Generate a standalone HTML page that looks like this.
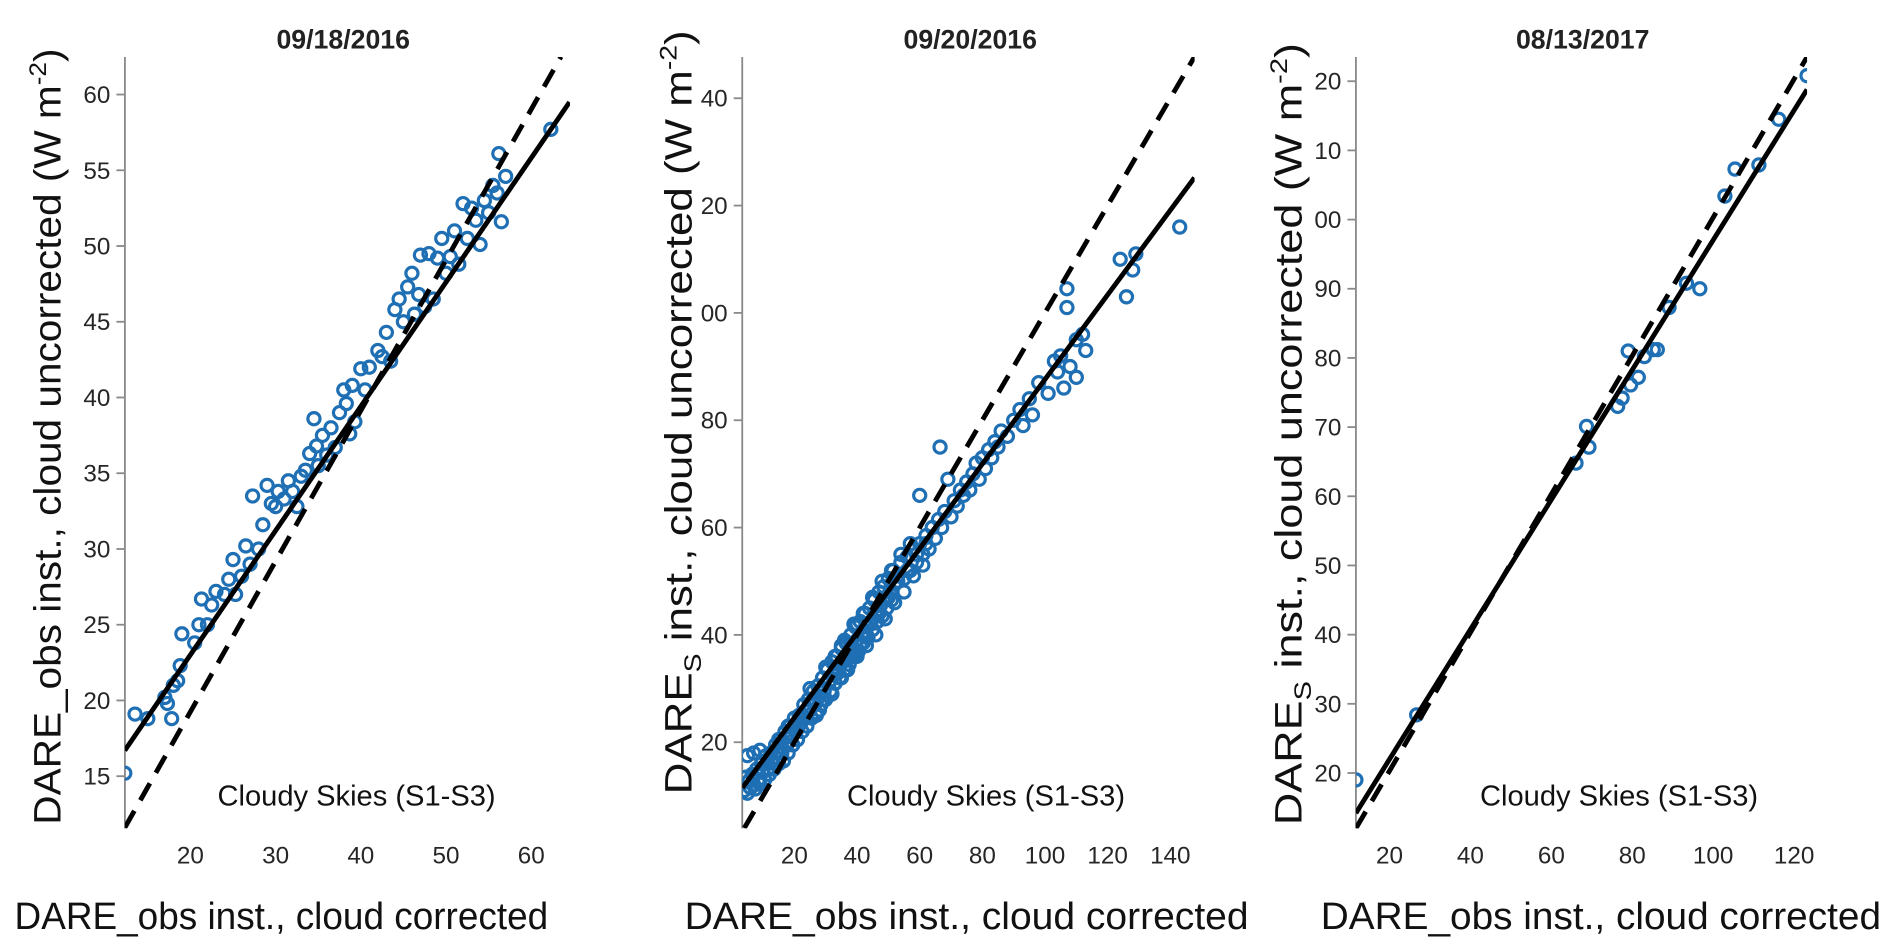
<!DOCTYPE html>
<html><head><meta charset="utf-8"><style>
body{margin:0;background:#fff;}
svg{display:block;font-family:"Liberation Sans",sans-serif;}
</style></head><body>
<svg width="1892" height="948" viewBox="0 0 1892 948"><g id="fig" transform="scale(1.2128)"></g></svg>
<script>
// ---- Panel 1 data (09/18/2016)
const p1Title = "09/18/2016";
const p1XTicks = [20,30,40,50,60];
const p1YTicks = [15,20,25,30,35,40,45,50,55,60];
const p1YTickLabels = ["15","20","25","30","35","40","45","50","55","60"];
const p1X = [12.3,13.5,15,17,17.3,17.8,18,18.5,18.8,19,20.5,21,21.3,22,22.5,23,24,24.5,25,25.3,26,26.5,27,27.3,28,28.5,29,29.5,30,30.3,31,31.5,32,32.5,33,33.5,34,34.5,34.8,35,35.5,36,36.5,37,37.5,38,38.3,38.7,39,39.3,40,40.5,41,42,42.5,43,43.5,44,44.5,45,45.5,46,46.3,46.8,47,47.5,48,48.5,49,49.5,50,50.5,51,51.5,52,52.5,53,53.5,54,54.5,55,55.5,56,56.2,56.5,57,62.3];
const p1Y = [15.2,19.1,18.8,20.2,19.8,18.8,21,21.3,22.3,24.4,23.8,25,26.7,25,26.3,27.2,27,28,29.3,27,28.2,30.2,29,33.5,30,31.6,34.2,33,32.8,33.8,33.3,34.5,33.8,32.8,34.8,35.2,36.3,38.6,36.8,35.5,37.5,36.2,38,36.7,39,40.5,39.6,37.6,40.8,38.4,41.9,40.5,42,43.1,42.7,44.3,42.4,45.8,46.5,45,47.3,48.2,45.5,46.8,49.4,46,49.5,46.5,49.2,50.5,48.2,49.3,51,48.8,52.8,50.5,52.5,51.7,50.1,53,52.2,54,53.5,56.1,51.6,54.6,57.7];
const p1DashX = [12.3,63.5];
const p1DashY = [11.6,62.5];
const p1FitX = [12.3,64.5];
const p1FitY = [16.7,59.5];

// ---- Panel 2 data (09/20/2016)
const p2Title = "09/20/2016";
const p2XTicks = [20,40,60,80,100,120,140];
const p2YTicks = [20,40,60,80,100,120,140];
const p2YTickLabels = ["20","40","60","80","00","20","40"];
const p2X = [4,4.5,5,5.5,6,6.5,7,7.5,8,8.5,9,9.5,10,10.5,11,11.5,12,12.5,13,13.5,14,14.5,15,15.5,16,16.5,17,17.5,18,18.5,19,19.5,20,20.5,21,21.5,22,22.5,23,23.5,24,24.5,25,25.5,26,26.5,27,27.5,28,28.5,29,29.5,30,30.5,31,31.5,32,32.5,33,33.5,34,34.5,35,35.5,36,36.5,37,37.5,38,38.5,39,39.5,40,40.5,41,41.5,42,42.5,43,43.5,44,44.5,45,45.5,46,46.5,47,47.5,48,48.5,49,49.5,50,50.5,51,51.5,52,53,54,55,56,57,58,59,60,61,62,63,64,60,65,66,66.5,67,68,69,70,71,72,73,74,75,76,77,78,79,80,81,82,83,84,85,86,88,90,92,93,95,96,98,101,103,104,105,106,107,107,108,110,110,112,113,124,126,128,129,143,7,5,9,25,30,35,40,45,28,33,38,43,
  15,16,18,20,22,24,26,27,29,31,32,34,35,37,38,40,41,43,44,46,47,49,50,52,53,55,56,58,59,61,62,36,39,42,45,48,51,54,57,33];
const p2Y = [11,13.5,10.5,12.8,11.5,14,12,11.3,15,13,12.2,16,14.5,13,17.5,15,14,18,16.5,15,19.5,17,16,20.5,18,16.5,22,19.5,18,23,21,19.5,24.5,22,20.5,25,23.5,22,27,24.5,23,28,26,24.5,29.5,27,25.5,30.5,28.5,27,32,29.5,28,33.5,31,29.5,35,32.5,31,36,33.5,32,37.5,35,33.5,38.5,36,34.5,40,37.5,36,41.5,39,37,42.5,40,38.5,44,41.5,39.5,45,42.5,41,46.5,44,42.5,48,45.5,43.5,49,46.5,45,50.5,48,46.5,52,49.5,51,53.5,50.5,54.5,52,56,53.5,57,55,58.5,56,60,66,58,61.5,75,60,63,69,62,65,64,67,66,68.5,67,70,72,69,73,71,74.5,73,76,75,78,77,80,82,79,84,81,87,85,91,89,92,86,101,104.5,90,95,88,96,93,110,103,108,111,116,18,17.5,18.5,30,34,38,42,47,26,31,36,40,
  20.5,19,23,23,24.5,26,28,25,28,31,29,33,32,33.5,37,36,38,38,42,40,44,43,47,46,50,48,52,51,55,53,57,39,42,44,47,50,52,55,57,36];
const p2DashX = [4,147.7];
const p2DashY = [4,147.7];
const p2FitX = [3.4,147.7];
const p2FitY = [11.5,125.2];

// ---- Panel 3 data (08/13/2017)
const p3Title = "08/13/2017";
const p3XTicks = [20,40,60,80,100,120];
const p3YTicks = [20,30,40,50,60,70,80,90,100,110,120];
const p3YTickLabels = ["20","30","40","50","60","70","80","90","00","10","20"];
const p3X = [11.7,26.7,66.1,69.3,68.7,76.4,77.5,79.6,81.5,79,83,85.2,86.2,89.1,93.4,96.7,102.9,105.4,111.3,116.2,123.2];
const p3Y = [19,28.4,64.8,67.1,70.1,73,74.2,76.1,77.2,81,80.2,81.2,81.2,87.3,90.8,90,103.4,107.3,107.9,114.5,120.8];
const p3DashX = [11.7,123.2];
const p3DashY = [12,123.5];
const p3FitX = [11.7,123.2];
const p3FitY = [14.2,118.8];

const NS = "http://www.w3.org/2000/svg";
const svg = document.getElementById('fig');
function mk(tag, attrs, parent){
  const e = document.createElementNS(NS, tag);
  for (const k in attrs) e.setAttribute(k, attrs[k]);
  (parent||svg).appendChild(e);
  return e;
}

function panel(cfg){
  const g = mk('g', {});
  
  
  const sx = v => cfg.px0 + (v - cfg.x0) * cfg.kx;
  const sy = v => cfg.py0 - (v - cfg.y0) * cfg.ky;
  const clip = mk('clipPath', {id: cfg.name + '-clip'}, g);
  mk('rect', {x: cfg.left, y: cfg.top, width: cfg.right - cfg.left, height: cfg.bottom - cfg.top}, clip);

  const t = mk('text', {x: cfg.titleX, y: 40, 'text-anchor': 'middle', 'font-size': 22, 'font-weight': 'bold', fill: '#222'}, g);
  t.textContent = cfg.title;
  
  

  const ax = mk('line', {x1: cfg.left, y1: cfg.top, x2: cfg.left, y2: cfg.bottom, stroke: '#8a8a8a', 'stroke-width': 1.5}, g);
  
  

  cfg.yTicks.forEach((v, i) => {
    const y = sy(v);
    const tk = mk('line', {x1: cfg.left - 7, y1: y, x2: cfg.left, y2: y, stroke: '#8a8a8a', 'stroke-width': 1.5}, g);
    
    
    const lb = mk('text', {x: cfg.left - 12, y: y + 7, 'text-anchor': 'end', 'font-size': 20, fill: '#262626'}, g);
    lb.textContent = cfg.yLabels[i];
    
    
  });
  cfg.xTicks.forEach(v => {
    const lb = mk('text', {x: sx(v), y: 712, 'text-anchor': 'middle', 'font-size': 20, fill: '#262626'}, g);
    lb.textContent = String(v);
    
    
  });

  const inner = mk('g', {'clip-path': 'url(#' + cfg.name + '-clip)'}, g);
  cfg.xs.forEach((v, i) => {
    const c = mk('circle', {cx: sx(v), cy: sy(cfg.ys[i]), r: 5, fill: 'none', stroke: '#1f6fb4', 'stroke-width': 2.6}, inner);
    
    
  });
  const d = mk('line', {x1: sx(cfg.dx[0]), y1: sy(cfg.dy[0]), x2: sx(cfg.dx[1]), y2: sy(cfg.dy[1]), stroke: '#000', 'stroke-width': 4, 'stroke-dasharray': '16 10'}, inner);
  
  
  const f = mk('line', {x1: sx(cfg.fx[0]), y1: sy(cfg.fy[0]), x2: sx(cfg.fx[1]), y2: sy(cfg.fy[1]), stroke: '#000', 'stroke-width': 4}, inner);
  
  

  const cs = mk('text', {x: cfg.csX, y: 664, 'text-anchor': 'middle', 'font-size': 24, fill: '#111'}, g);
  cs.textContent = 'Cloudy Skies (S1-S3)';
  
  

  const xl = mk('text', {x: cfg.xlX, y: 766, 'text-anchor': 'middle', 'font-size': 31, fill: '#111', textLength: cfg.xlLen, lengthAdjust: 'spacingAndGlyphs'}, g);
  xl.textContent = 'DARE_obs inst., cloud corrected';
  
  

  const yl = mk('text', {transform: 'translate(' + cfg.ylX + ',' + cfg.ylY + ') rotate(-90)', 'text-anchor': 'middle', 'font-size': 31, fill: '#111', textLength: cfg.ylLen, lengthAdjust: 'spacingAndGlyphs'}, g);
  yl.innerHTML = cfg.ylHtml;
  
  
}

panel({name: 'panel-2016-09-18', title: p1Title, titleX: 283,
  left: 103, right: 470, top: 47, bottom: 683,
  px0: 157, x0: 20, kx: 7.025, py0: 640, y0: 15, ky: 12.49,
  xTicks: p1XTicks, yTicks: p1YTicks, yLabels: p1YTickLabels,
  xs: p1X, ys: p1Y, dx: p1DashX, dy: p1DashY, fx: p1FitX, fy: p1FitY,
  csX: 294, xlX: 232, xlLen: 440, ylX: 50, ylY: 360, ylLen: 640,
  ylHtml: 'DARE_obs inst., cloud uncorrected (W m<tspan dy="-12" font-size="20">-2</tspan><tspan dy="12">)</tspan>'});

panel({name: 'panel-2016-09-20', title: p2Title, titleX: 800,
  left: 612, right: 985, top: 47, bottom: 683,
  px0: 655, x0: 20, kx: 2.583, py0: 612, y0: 20, ky: 4.425,
  xTicks: p2XTicks, yTicks: p2YTicks, yLabels: p2YTickLabels,
  xs: p2X, ys: p2Y, dx: p2DashX, dy: p2DashY, fx: p2FitX, fy: p2FitY,
  csX: 813, xlX: 797, xlLen: 465, ylX: 570, ylY: 340, ylLen: 630,
  ylHtml: 'DARE<tspan dy="8" font-size="20">S</tspan><tspan dy="-8"> inst., cloud uncorrected (W m</tspan><tspan dy="-12" font-size="20">-2</tspan><tspan dy="12">)</tspan>'});

panel({name: 'panel-2017-08-13', title: p3Title, titleX: 1305,
  left: 1118, right: 1490, top: 47, bottom: 683,
  px0: 1118, x0: 11.7, kx: 3.336, py0: 683, y0: 12, ky: 5.704,
  xTicks: p3XTicks, yTicks: p3YTicks, yLabels: p3YTickLabels,
  xs: p3X, ys: p3Y, dx: p3DashX, dy: p3DashY, fx: p3FitX, fy: p3FitY,
  csX: 1335, xlX: 1320, xlLen: 462, ylX: 1073, ylY: 358, ylLen: 645,
  ylHtml: 'DARE<tspan dy="8" font-size="20">S</tspan><tspan dy="-8"> inst., cloud uncorrected (W m</tspan><tspan dy="-12" font-size="20">-2</tspan><tspan dy="12">)</tspan>'});
</script>
</body></html>
